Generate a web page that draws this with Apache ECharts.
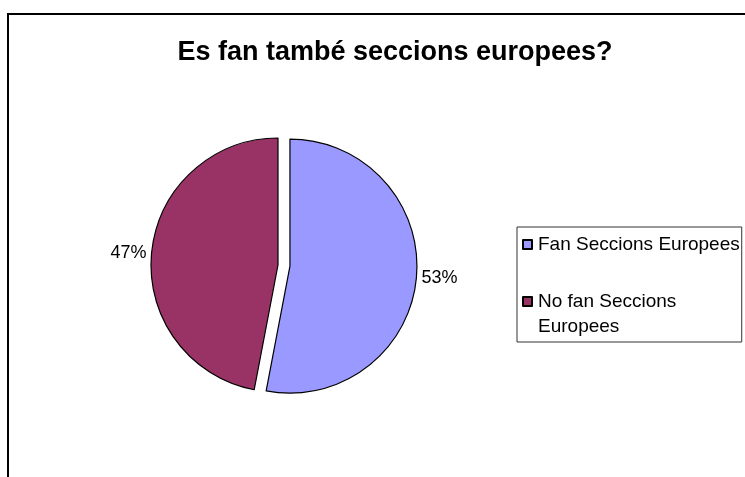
<!DOCTYPE html>
<html>
<head>
<meta charset="utf-8">
<script src="https://cdn.jsdelivr.net/npm/echarts@6/dist/echarts.min.js"></script>
<style>
  html, body { margin: 0; padding: 0; background: #fff; }
  #chart { width: 745px; height: 477px; }
</style>
</head>
<body>
<div id="chart"></div>
<script>
// dades del gràfic
var titol = 'Es fan també seccions europees?';
var categories = ['Fan Seccions Europees', 'No fan Seccions Europees'];
var valors = [53, 47];
var colors = ['#9999FF', '#993366'];
// etiqueta de llegenda amb salt de línia (la primera línia buida centra la icona a la primera línia)
var etiquetesLlegenda = ['Fan Seccions Europees', '\nNo fan Seccions\nEuropees'];

var myChart = echarts.init(document.getElementById('chart'));

var dades = categories.map(function (nom, i) {
  return { name: nom, value: valors[i], selected: i === 0 };
});

myChart.setOption({
  animation: false,
  color: colors,
  textStyle: { fontFamily: 'Liberation Sans, Arial, sans-serif' },
  graphic: [{
    type: 'rect',
    shape: { x: 8, y: 14, width: 800, height: 500 },
    style: { fill: 'none', stroke: '#000', lineWidth: 2 },
    silent: true
  }],
  title: {
    text: titol,
    left: 390,
    textAlign: 'center',
    top: 34,
    textStyle: { fontSize: 27, fontWeight: 'bold', color: '#000' }
  },
  legend: {
    orient: 'vertical',
    left: 517,
    top: 227,
    selectedMode: false,
    icon: 'rect',
    itemWidth: 9,
    itemHeight: 9,
    itemGap: 7,
    padding: [5, 2, 3, 5],
    borderColor: '#333',
    borderWidth: 1,
    data: categories,
    formatter: function (nom) {
      return etiquetesLlegenda[categories.indexOf(nom)];
    },
    textStyle: { fontSize: 19, color: '#000', lineHeight: 25, padding: [0, 0, 0, 1] }
  },
  series: [{
    type: 'pie',
    center: [278, 265],
    radius: 127,
    startAngle: 90,
    clockwise: true,
    selectedMode: 'single',
    selectedOffset: 12,
    data: dades,
    itemStyle: { borderColor: '#000', borderWidth: 1.2 },
    label: {
      show: true,
      position: 'outside',
      formatter: '{d}%',
      fontSize: 18,
      color: '#000'
    },
    labelLine: { show: false, length: 0, length2: 0 },
    emphasis: { disabled: true }
  }]
});
</script>
</body>
</html>
